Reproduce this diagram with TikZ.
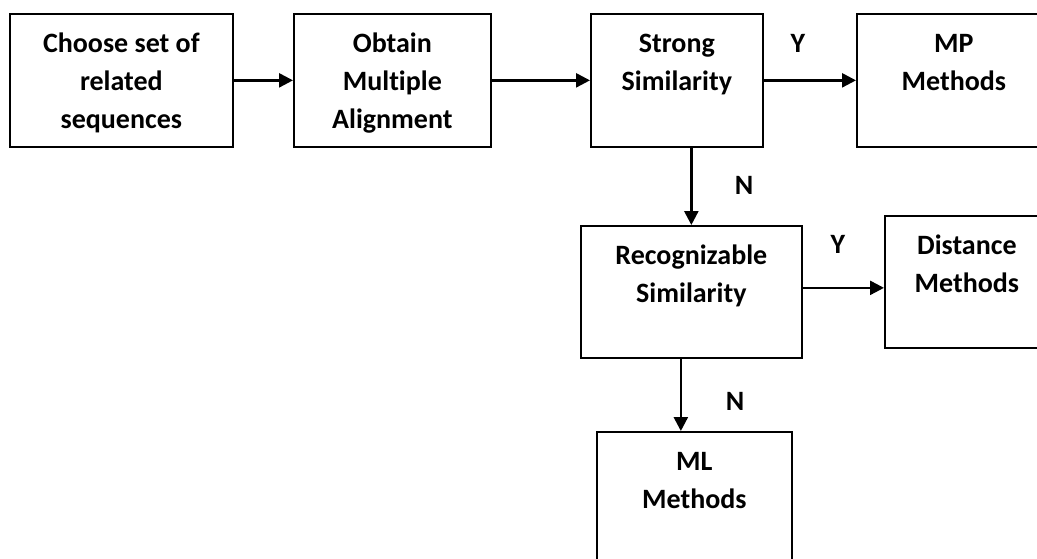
\documentclass[tikz,border=0pt]{standalone}
\usepackage{fontspec}
\setmainfont{Carlito}[Ligatures=NoCommon]
\usetikzlibrary{arrows.meta,calc}
\begin{document}
\begin{tikzpicture}[x=1pt,y=-1pt,
  box/.style={draw, line width=1.7pt, inner sep=0pt, anchor=north west},
  txt/.style={font=\fontsize{28}{38}\selectfont\bfseries, align=center, inner sep=0pt, anchor=north},
  lbl/.style={font=\fontsize{28}{38}\selectfont\bfseries, inner sep=0pt, anchor=base},
  arr/.style={line width=2.5pt, -{Triangle[length=14pt,width=14pt]}}]
\clip (0,0) rectangle (1037,558);
\fill[white] (0,0) rectangle (1037,558);
% boxes
\node[box, minimum width=223pt, minimum height=133pt] (b1) at (9,13) {};
\node[box, minimum width=197pt, minimum height=133pt] (b2) at (293,13) {};
\node[box, minimum width=172pt, minimum height=133pt] (b3) at (590,13) {};
\node[box, minimum width=194pt, minimum height=133pt] (b4) at (856,13) {};
\node[box, minimum width=221pt, minimum height=132pt] (b5) at (580,225) {};
\node[box, minimum width=164pt, minimum height=132pt] (b6) at (884,215) {};
\node[box, minimum width=195pt, minimum height=140pt] (b7) at (596,431) {};
% texts
\node[txt] (t1) at ([yshift=-15pt]b1.north) {\rule{0pt}{24pt}Choose set of\\related\\sequences};
\node[txt] (t2) at ([yshift=-15pt]b2.north) {\rule{0pt}{24pt}Obtain\\Multiple\\Alignment};
\node[txt] (t3) at ([yshift=-15pt]b3.north) {\rule{0pt}{24pt}Strong\\Similarity};
\node[txt] (t4) at ([yshift=-15pt]b4.north) {\rule{0pt}{24pt}MP\\Methods};
\node[txt] (t5) at ([yshift=-15pt]b5.north) {\rule{0pt}{24pt}Recognizable\\Similarity};
\node[txt] (t6) at ([yshift=-15pt]b6.north) {\rule{0pt}{24pt}Distance\\Methods};
\node[txt] (t7) at ([yshift=-15pt]b7.north) {\rule{0pt}{24pt}ML\\Methods};
% arrows
\draw[arr] (b1.east) -- (b2.west);
\draw[arr] (b2.east) -- (b3.west);
\draw[arr] (b3.east) -- (b4.west);
\coordinate (d1) at (b5.north |- b3.south);
\draw[arr] (d1) -- (b5.north);
\coordinate (r1) at ([yshift=4pt]b5.east);
\draw[arr] (r1) -- (r1 -| b6.west);
\coordinate (d2) at ([xshift=-10.5pt]b5.south);
\draw[arr] (d2) -- (d2 |- b7.north);
% labels
\node[lbl] (y1) at (798,52) {Y};
\node[lbl] (n1) at (744,194) {N};
\node[lbl] (y2) at (838,253) {Y};
\node[lbl] (n2) at (735,410) {N};
\end{tikzpicture}
\end{document}
